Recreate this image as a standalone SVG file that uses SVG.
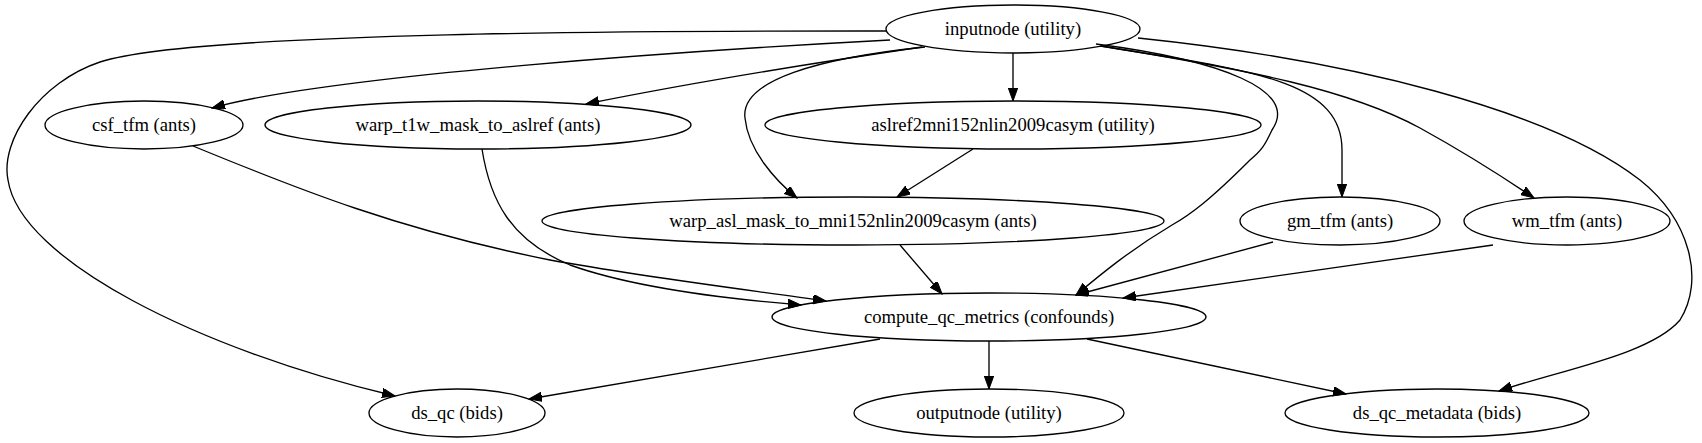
<svg xmlns="http://www.w3.org/2000/svg" width="1702" height="443" viewBox="0 0 1702 443">
<style>
.n ellipse{fill:none;stroke:#000;stroke-width:1.33}
.n text{font-family:"Liberation Serif","Times New Roman",serif;font-size:18.67px;text-anchor:middle;fill:#000}
#edges path{fill:none;stroke:#000;stroke-width:1.33;marker-end:url(#a)}
</style>
<defs><marker id="a" markerUnits="userSpaceOnUse" markerWidth="14" markerHeight="10" refX="13" refY="4.7" orient="auto"><path d="M0,0 L13,4.7 L0,9.4 z" fill="#000" stroke="#000"/></marker></defs>
<rect width="1702" height="443" fill="#fff"/>
<g id="edges">
<path d="M887,31 C700,31 200,30 100,62 C40,82 0,140 8,180 C20,260 200,350 395,396"/>
<path d="M890,40 C700,50 330,75 212,108"/>
<path d="M922,47 C800,65 680,85 586,104"/>
<path d="M1013,53 L1013,101"/>
<path d="M925,47 C820,58 740,80 745,118 C748,150 775,180 797,198"/>
<path d="M973,149 L897,197"/>
<path d="M1096,44 C1220,60 1300,90 1272,130 C1265,145 1262,150 1250,160 C1210,200 1190,215 1172,225 C1130,250 1100,275 1076,295"/>
<path d="M1100,46 C1250,70 1342,80 1342,150 L1342,197"/>
<path d="M1101,46 C1250,70 1350,90 1420,128 C1460,150 1500,175 1534,198"/>
<path d="M1138,38 C1350,60 1550,110 1640,180 C1690,220 1705,280 1680,320 C1650,355 1560,370 1499,391"/>
<path d="M193,146 C300,190 400,230 550,260 C650,278 750,290 826,301"/>
<path d="M482,149 C490,200 510,240 570,265 C640,290 740,300 801,305"/>
<path d="M900,245 L942,294"/>
<path d="M1273,242 L1076,295"/>
<path d="M1493,245 L1123,298"/>
<path d="M880,339 L529,399"/>
<path d="M989,341 L989,389"/>
<path d="M1087,339 L1346,394"/>
</g>
<g id="inputnode" class="n"><ellipse cx="1013" cy="29" rx="127" ry="24"/><text x="1013" y="35">inputnode (utility)</text></g>
<g id="csf_tfm" class="n"><ellipse cx="144" cy="125" rx="99" ry="24"/><text x="144" y="131">csf_tfm (ants)</text></g>
<g id="warp_t1w_mask_to_aslref" class="n"><ellipse cx="478" cy="125" rx="213" ry="24"/><text x="478" y="131">warp_t1w_mask_to_aslref (ants)</text></g>
<g id="aslref2mni152nlin2009casym" class="n"><ellipse cx="1013" cy="125" rx="248" ry="24"/><text x="1013" y="131">aslref2mni152nlin2009casym (utility)</text></g>
<g id="warp_asl_mask_to_mni152nlin2009casym" class="n"><ellipse cx="853" cy="221" rx="311" ry="24"/><text x="853" y="227">warp_asl_mask_to_mni152nlin2009casym (ants)</text></g>
<g id="gm_tfm" class="n"><ellipse cx="1340" cy="221" rx="100" ry="24"/><text x="1340" y="227">gm_tfm (ants)</text></g>
<g id="wm_tfm" class="n"><ellipse cx="1567" cy="221" rx="103" ry="24"/><text x="1567" y="227">wm_tfm (ants)</text></g>
<g id="compute_qc_metrics" class="n"><ellipse cx="989" cy="317" rx="217" ry="24"/><text x="989" y="323">compute_qc_metrics (confounds)</text></g>
<g id="ds_qc" class="n"><ellipse cx="457" cy="413" rx="88" ry="24"/><text x="457" y="419">ds_qc (bids)</text></g>
<g id="outputnode" class="n"><ellipse cx="989" cy="413" rx="135" ry="24"/><text x="989" y="419">outputnode (utility)</text></g>
<g id="ds_qc_metadata" class="n"><ellipse cx="1437" cy="413" rx="152" ry="24"/><text x="1437" y="419">ds_qc_metadata (bids)</text></g>
</svg>
